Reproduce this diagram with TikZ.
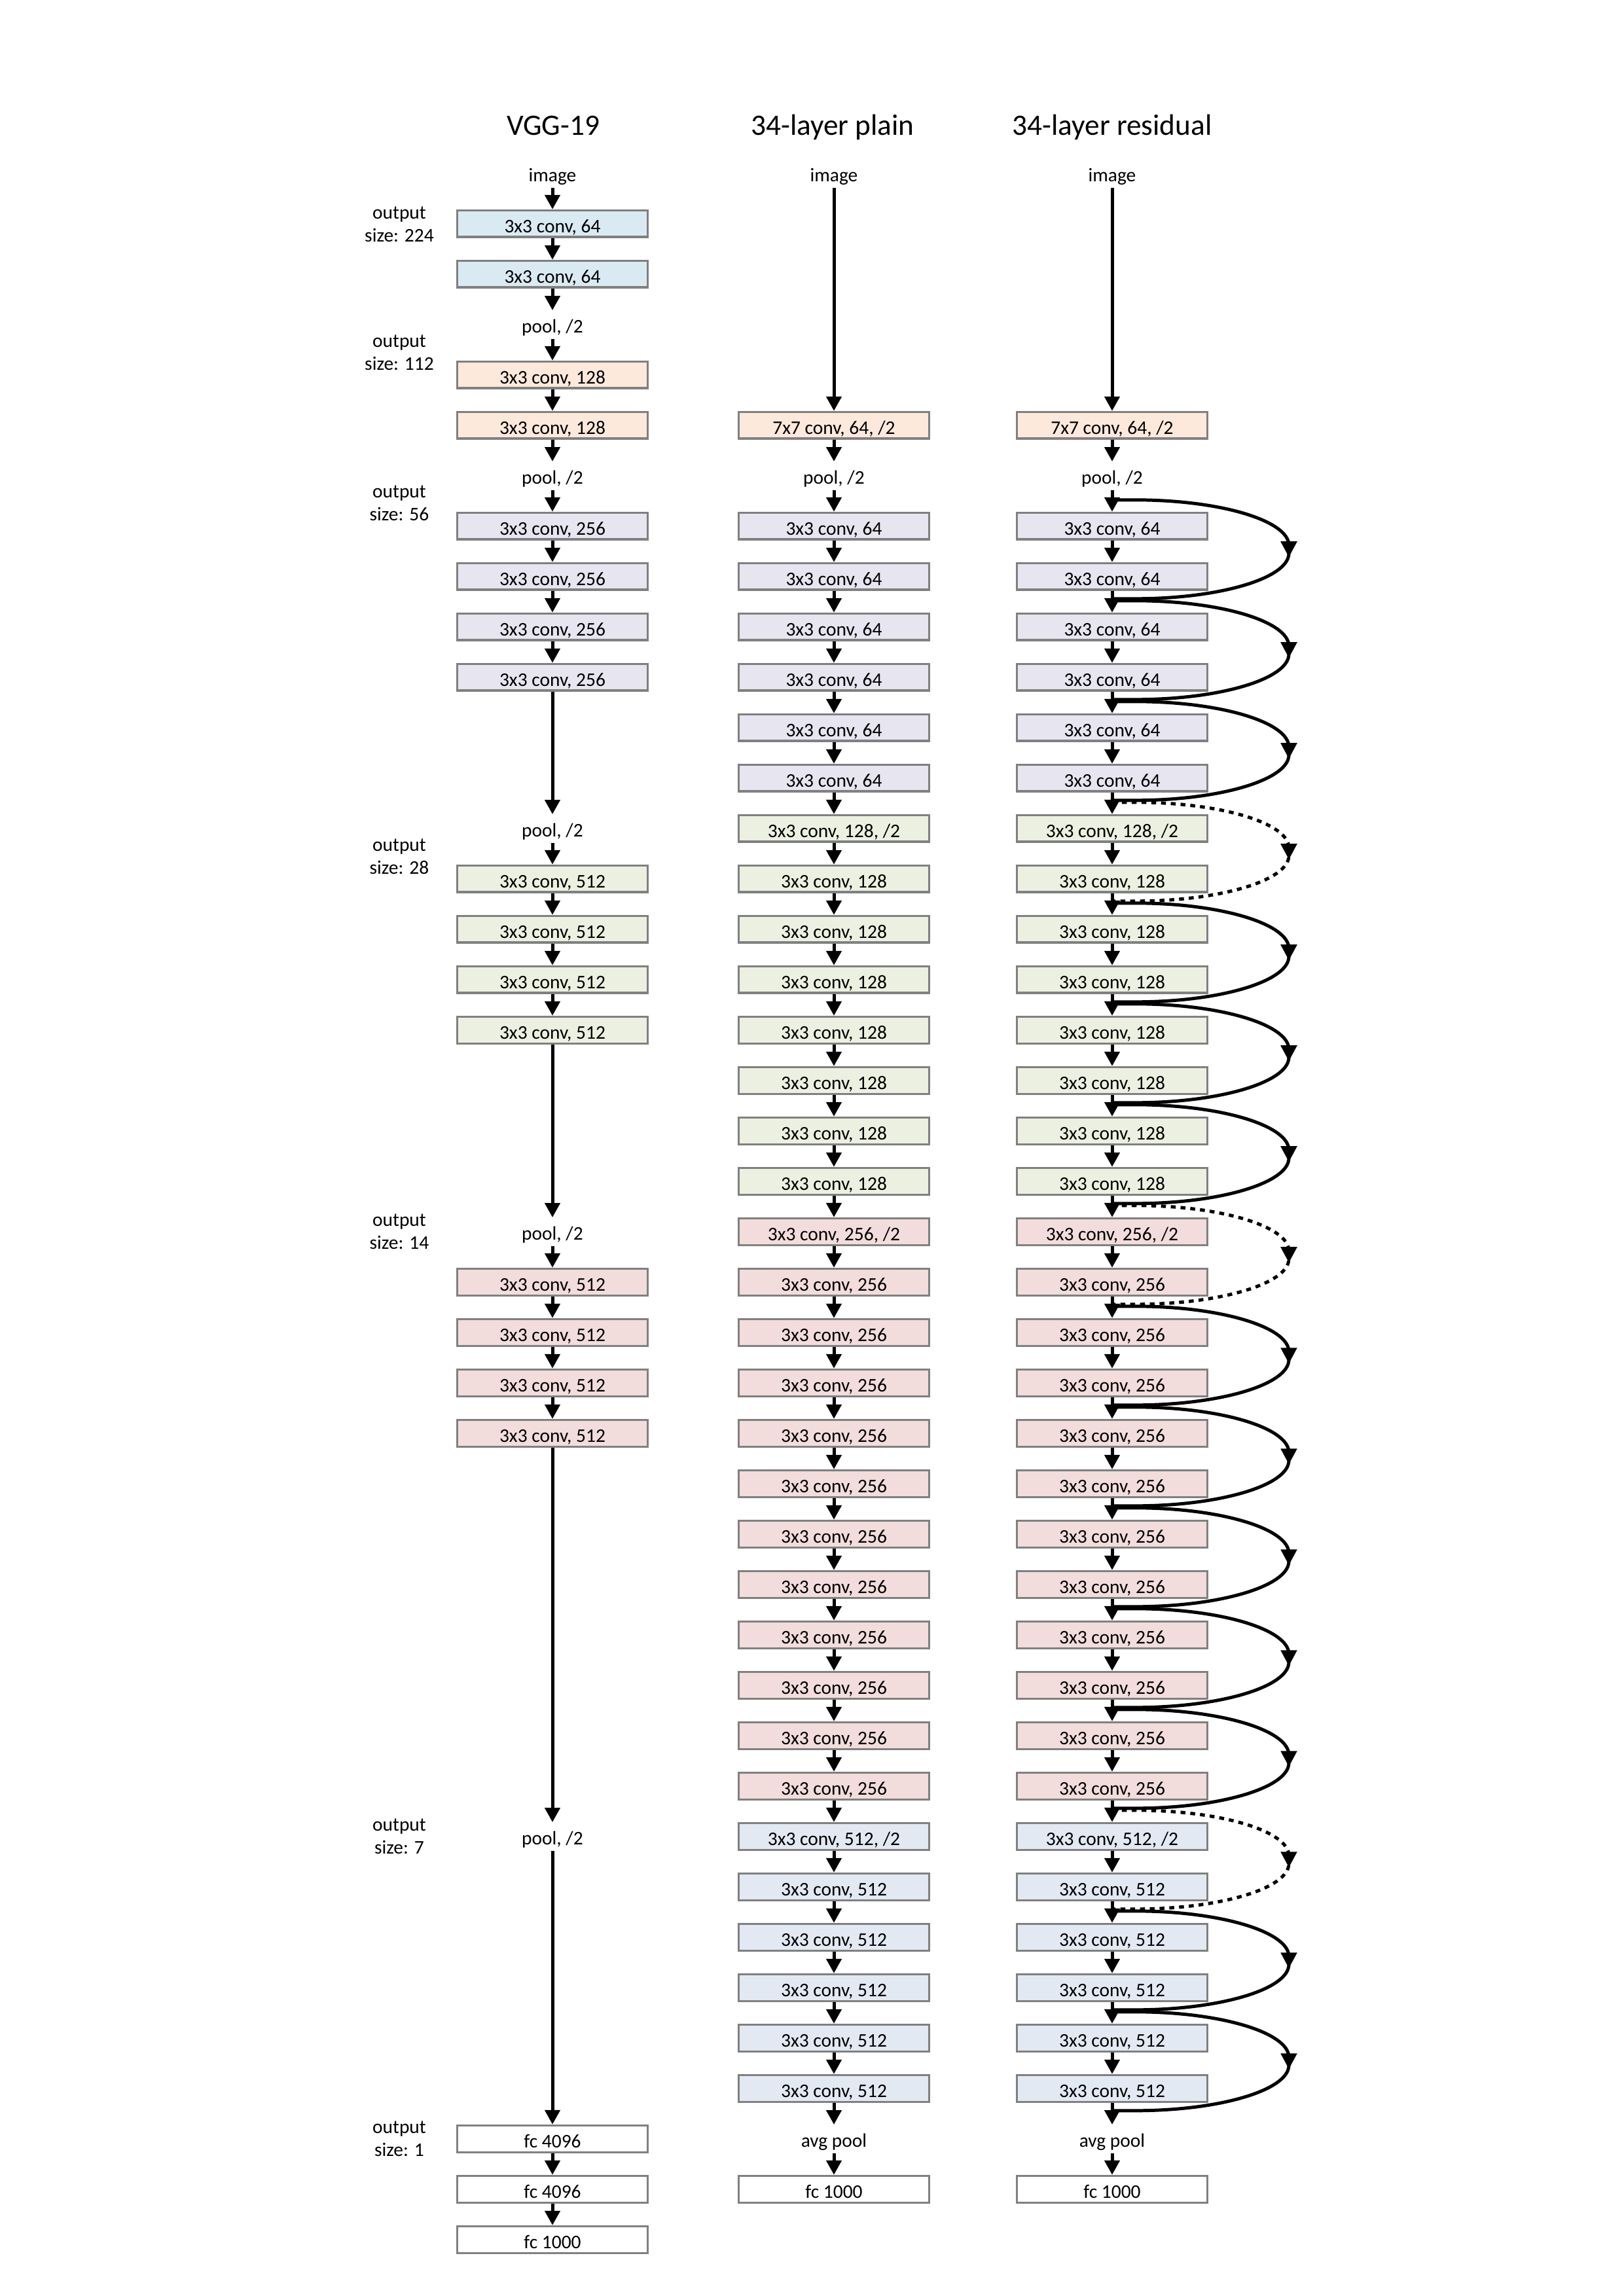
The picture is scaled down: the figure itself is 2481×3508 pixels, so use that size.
\documentclass[tikz,border=0pt]{standalone}
\usepackage{fontspec}
\setmainfont{Carlito}
\usetikzlibrary{arrows.meta,calc}

\definecolor{cblue}{HTML}{DAEAF2}
\definecolor{cpeach}{HTML}{FCE9DC}
\definecolor{clav}{HTML}{E6E5F0}
\definecolor{cgreen}{HTML}{EBF0E0}
\definecolor{cpink}{HTML}{F2DCDC}
\definecolor{csteel}{HTML}{E3E9F3}
\definecolor{cborder}{HTML}{808080}

\begin{document}
\begin{tikzpicture}[x=0.0846667mm, y=-0.0846667mm,
  layer/.style={draw=cborder, line width=0.8pt, fill=#1, minimum width=70pt,
    minimum height=9.8pt, inner sep=0pt, font=\fontsize{7.1}{8.5}\selectfont,
    text height=0.64em, text depth=0pt},
  layer/.default=white,
  lbl/.style={inner sep=0pt, minimum height=10.1pt, font=\fontsize{7.1}{8.5}\selectfont,
    text height=0.64em, text depth=0.04em},
  sizelbl/.style={align=center, inner sep=0pt, font=\fontsize{7.1}{8.4}\selectfont},
  title/.style={anchor=base, font=\fontsize{10.9}{13}\selectfont},
  flow/.style={line width=1.2pt, -{Triangle[length=5.3pt,width=5.5pt]}},
  skip/.style={line width=1.2pt},
  proj/.style={skip, dash pattern=on 1.8pt off 1.8pt},
  skiptip/.style={-{Triangle[length=5.8pt,width=5.8pt]}}
]
\fill[white] (0,0) rectangle (2481,3508);
\useasboundingbox (0,0) rectangle (2481,3508);

% column headings
\node[title] (tv) at (845,206) {VGG-19};
\node[title] (tp) at (1272,206) {34-layer plain};
\node[title] (tr) at (1699,206) {34-layer residual};

% output size labels
\node[sizelbl] (o224) at (610,343) {output\\size: 224};
\node[sizelbl] (o112) at (610,539) {output\\size: 112};
\node[sizelbl] (o56) at (610,769) {output\\size: 56};
\node[sizelbl] (o28) at (610,1309) {output\\size: 28};
\node[sizelbl] (o14) at (610,1882) {output\\size: 14};
\node[sizelbl] (o7) at (610,2806) {output\\size: 7};
\node[sizelbl] (o1) at (610,3268) {output\\size: 1};

% ---------------- VGG-19 ----------------
\def\vx{844}
\def\ytop{264.8}
\node[lbl] (v0) at (\vx,\ytop) {image};
\foreach \r in {1,2} {\node[layer=cblue] (v\r) at (\vx,{\ytop+77*\r}) {3x3 conv, 64};}
\node[lbl] (v3) at (\vx,{\ytop+77*3}) {pool, /2};
\foreach \r in {4,5} {\node[layer=cpeach] (v\r) at (\vx,{\ytop+77*\r}) {3x3 conv, 128};}
\node[lbl] (v6) at (\vx,{\ytop+77*6}) {pool, /2};
\foreach \r in {7,...,10} {\node[layer=clav] (v\r) at (\vx,{\ytop+77*\r}) {3x3 conv, 256};}
\node[lbl] (v13) at (\vx,{\ytop+77*13}) {pool, /2};
\foreach \r in {14,...,17} {\node[layer=cgreen] (v\r) at (\vx,{\ytop+77*\r}) {3x3 conv, 512};}
\node[lbl] (v21) at (\vx,{\ytop+77*21}) {pool, /2};
\foreach \r in {22,...,25} {\node[layer=cpink] (v\r) at (\vx,{\ytop+77*\r}) {3x3 conv, 512};}
\node[lbl] (v33) at (\vx,{\ytop+77*33}) {pool, /2};
\node[layer] (v39) at (\vx,{\ytop+77*39}) {fc 4096};
\node[layer] (v40) at (\vx,{\ytop+77*40}) {fc 4096};
\node[layer] (v41) at (\vx,{\ytop+77*41}) {fc 1000};

\foreach \a/\b in {0/1,1/2,2/3,3/4,4/5,5/6,6/7,7/8,8/9,9/10,10/13,13/14,14/15,15/16,16/17,
  17/21,21/22,22/23,23/24,24/25,25/33,33/39,39/40,40/41}
  {\draw[flow] (v\a) -- (v\b);}

% ---------------- plain and residual trunks ----------------
\foreach \c/\x in {p/1274,r/1699} {
  \node[lbl] (\c0) at (\x,\ytop) {image};
  \node[layer=cpeach] (\c5) at (\x,{\ytop+77*5}) {7x7 conv, 64, /2};
  \node[lbl] (\c6) at (\x,{\ytop+77*6}) {pool, /2};
  \foreach \r in {7,...,12} {\node[layer=clav] (\c\r) at (\x,{\ytop+77*\r}) {3x3 conv, 64};}
  \node[layer=cgreen] (\c13) at (\x,{\ytop+77*13}) {3x3 conv, 128, /2};
  \foreach \r in {14,...,20} {\node[layer=cgreen] (\c\r) at (\x,{\ytop+77*\r}) {3x3 conv, 128};}
  \node[layer=cpink] (\c21) at (\x,{\ytop+77*21}) {3x3 conv, 256, /2};
  \foreach \r in {22,...,32} {\node[layer=cpink] (\c\r) at (\x,{\ytop+77*\r}) {3x3 conv, 256};}
  \node[layer=csteel] (\c33) at (\x,{\ytop+77*33}) {3x3 conv, 512, /2};
  \foreach \r in {34,...,38} {\node[layer=csteel] (\c\r) at (\x,{\ytop+77*\r}) {3x3 conv, 512};}
  \node[lbl] (\c39) at (\x,{\ytop+77*39}) {avg pool};
  \node[layer] (\c40) at (\x,{\ytop+77*40}) {fc 1000};

  \draw[flow] (\c0) -- (\c5);
  \foreach \i in {5,...,39} {
    \pgfmathtruncatemacro\j{\i+1}
    \draw[flow] (\c\i) -- (\c\j);
  }
}

% ---------------- shortcut connections ----------------
% each shortcut leaves the trunk above a pair of layers, swings out to the
% right (arrow head at its outermost point) and rejoins below the pair
\coordinate (xr) at (1969,0);
\foreach \a/\b/\s in {7/8/skip,9/10/skip,11/12/skip,13/14/proj,15/16/skip,17/18/skip,
  19/20/skip,21/22/proj,23/24/skip,25/26/skip,27/28/skip,29/30/skip,31/32/skip,
  33/34/proj,35/36/skip,37/38/skip} {
  \coordinate (s\a) at ($(r\a.north)+(0,-18)$);
  \coordinate (e\a) at ($(r\b.south)+(0,12)$);
  \coordinate (m\a) at ($(s\a)!0.5!(e\a)$);
  \coordinate (t\a) at ($(xr |- m\a)+(0,-6)$);
  \coordinate (b\a) at ($(xr |- m\a)+(0,6)$);
  \coordinate (k\a) at ($(xr |- m\a)+(0,12)$);
  \draw[\s, skiptip] (s\a) -- ++(35,0) .. controls +(130,0) and +(0,-38) .. (t\a) -- (k\a);
  \draw[\s] (t\a) -- (b\a) .. controls +(0,38) and +(130,0) .. ($(e\a)+(35,0)$) -- (e\a);
}
\end{tikzpicture}
\end{document}
